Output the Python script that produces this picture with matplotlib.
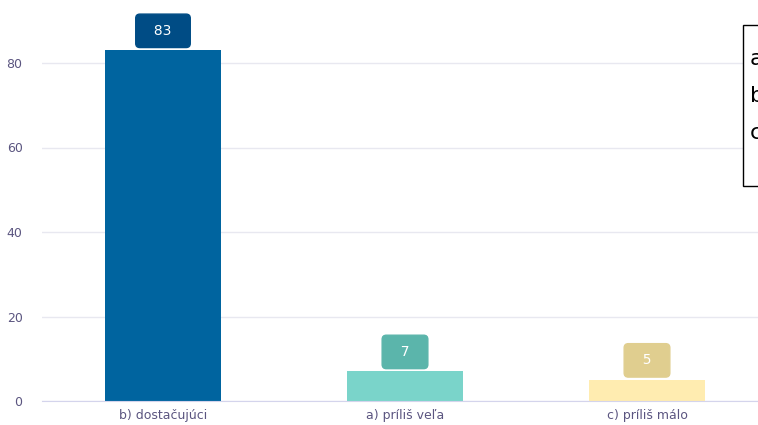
import matplotlib
matplotlib.use("Agg")
import matplotlib.pyplot as plt
from matplotlib.patches import Rectangle

# Dáta odčítané z grafu
categories = ["b) dostačujúci", "a) príliš veľa", "c) príliš málo"]
values = [83, 7, 5]
bar_colors = ["#00649f", "#7ad4ca", "#ffecb0"]
label_colors = ["#004c85", "#5bb5ab", "#e0ce8f"]
yticks = [0, 20, 40, 60, 80]
legend_lines = ["a) príliš veľa", "b) dostačujúci", "c) príliš málo"]

W, H = 758, 425
fig = plt.figure(figsize=(W / 100, H / 100), dpi=100)

# Os siaha za pravý okraj obrázka (ako v referencii)
left, right = 42, 768
bottom, top = 401, 0
ax = fig.add_axes([left / W, (H - bottom) / H, (right - left) / W, (bottom - top) / H])

x = list(range(len(categories)))
ax.bar(x, values, width=0.483, color=bar_colors, zorder=3)
ax.set_xlim(-0.5, len(categories) - 0.5)
ax.set_ylim(0, 401 / 4.225)

ax.set_yticks(yticks)
ax.set_xticks(x)
ax.set_xticklabels(categories)
ax.tick_params(axis="both", length=0, labelsize=9, labelcolor="#5b5580")
ax.tick_params(axis="x", pad=6)
ax.tick_params(axis="y", pad=14)
ax.grid(axis="y", color="#e8e8f0", linewidth=1, zorder=0)
for side in ["top", "right", "left"]:
    ax.spines[side].set_visible(False)
ax.spines["bottom"].set_color("#d4d4ec")
ax.spines["bottom"].set_zorder(4)

# Popisky hodnôt v zaoblených rámčekoch
for xi, v, c in zip(x, values, label_colors):
    ax.annotate(
        f"  {v}  ", xy=(xi, v), xytext=(0, 9), textcoords="offset points",
        ha="center", va="bottom", color="white", fontsize=10,
        bbox=dict(boxstyle="round,pad=0.7,rounding_size=0.3", facecolor=c, edgecolor=c),
        zorder=5,
    )

# Legenda orezaná pravým okrajom obrázka
fig.patches.append(Rectangle(
    (743 / W, (H - 186) / H), 40 / W, (186 - 25) / H,
    transform=fig.transFigure, facecolor="white", edgecolor="black", linewidth=1,
))
for i, line in enumerate(legend_lines):
    fig.text(750 / W, (H - (58 + 37 * i)) / H, line, fontsize=16,
             color="black", va="center", ha="left")

fig.savefig("out.png", dpi=100)
